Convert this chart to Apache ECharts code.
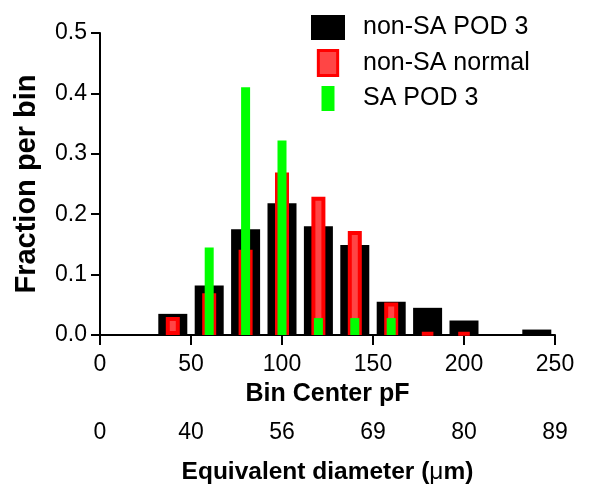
<!DOCTYPE html>
<html>
<head>
<meta charset="utf-8">
<script src="https://cdn.jsdelivr.net/npm/echarts@6/dist/echarts.min.js"></script>
<style>html,body{margin:0;padding:0;background:#fff}#c{width:600px;height:492px}</style>
</head>
<body>
<div id="c"></div>
<script>
const binCenters = [40, 60, 80, 100, 120, 140, 160, 180, 200, 240];
const nonSaPod3 = [0.035, 0.082, 0.175, 0.218, 0.180, 0.149, 0.055, 0.045, 0.024, 0.009];
const nonSaNormal = [0.030, 0.069, 0.141, 0.269, 0.229, 0.172, 0.054, 0.004, 0.004, 0];
const saPod3 = [0, 0.145, 0.410, 0.322, 0.028, 0.028, 0.028, 0, 0, 0];
const pfTicks = [0, 50, 100, 150, 200, 250];
const diameterLabels = ['0', '40', '56', '69', '80', '89'];
const seriesNames = ['non-SA POD 3', 'non-SA normal', 'SA POD 3'];

function pairs(vals) {
  return binCenters.map((x, i) => vals[i] > 0 ? [x, vals[i]] : null).filter(p => p);
}
const FONT = "'Liberation Sans', Arial, sans-serif";
const hiddenX = () => ({ type: 'value', min: 0, max: 250, show: false, gridIndex: 0 });

const chart = echarts.init(document.getElementById('c'), null, { renderer: 'canvas' });
chart.setOption({
  animation: false,
  textStyle: { fontFamily: FONT },
  grid: { left: 100, right: 45, top: 33, bottom: 157, containLabel: false, outerBoundsMode: 'none' },
  legend: {
    orient: 'vertical',
    left: 306, top: 10,
    itemWidth: 34, itemHeight: 25, itemGap: 9,
    textStyle: { fontFamily: FONT, fontSize: 25, color: '#000', padding: [0, 0, 0, 13] },
    data: [
      { name: seriesNames[0], icon: 'rect' },
      { name: seriesNames[1], icon: 'path://M0,0h17v22h-17z', itemStyle: { color: '#ff4545', borderColor: '#ff0000', borderWidth: 3 } },
      { name: seriesNames[2], icon: 'path://M0,0h13v25h-13z' }
    ]
  },
  xAxis: [
    {
      type: 'value', min: 0, max: 250, interval: 50,
      axisLine: { show: true, lineStyle: { color: '#000', width: 2 } },
      axisTick: { show: true, length: 10, lineStyle: { color: '#000', width: 2 } },
      splitLine: { show: false },
      axisLabel: { fontSize: 23, color: '#000', margin: 18, fontFamily: FONT },
      name: 'Bin Center pF', nameLocation: 'middle', nameGap: 47,
      nameTextStyle: { fontSize: 25, fontWeight: 'bold', color: '#000', fontFamily: FONT }
    },
    {
      type: 'value', min: 0, max: 250, interval: 50, position: 'bottom', offset: 72,
      axisLine: { show: false }, axisTick: { show: false }, splitLine: { show: false },
      axisLabel: { fontSize: 23, color: '#000', margin: 14, fontFamily: FONT,
        formatter: v => diameterLabels[pfTicks.indexOf(v)] },
      name: '{b|Equivalent diameter (}{m|μ}{b|m)}', nameLocation: 'middle', nameGap: 53,
      nameTextStyle: { fontSize: 24.5, color: '#000', fontFamily: FONT,
        rich: {
          b: { fontSize: 24.5, fontWeight: 'bold', color: '#000', fontFamily: FONT },
          m: { fontSize: 24.5, fontWeight: 'normal', color: '#000', fontFamily: FONT }
        } }
    },
    hiddenX(), hiddenX()
  ],
  yAxis: {
    type: 'value', min: 0, max: 0.5, interval: 0.1,
    axisLine: { show: true, lineStyle: { color: '#000', width: 2 } },
    axisTick: { show: true, length: 9, lineStyle: { color: '#000', width: 2 } },
    splitLine: { show: false },
    axisLabel: { fontSize: 23, color: '#000', margin: 13, fontFamily: FONT, formatter: v => v.toFixed(1) },
    name: 'Fraction per bin', nameLocation: 'middle', nameGap: 59, nameRotate: 90,
    nameTextStyle: { fontSize: 29, fontWeight: 'bold', color: '#000', fontFamily: FONT }
  },
  series: [
    { name: seriesNames[0], type: 'bar', xAxisIndex: 0, barWidth: 29,
      itemStyle: { color: '#000' }, data: pairs(nonSaPod3) },
    { name: seriesNames[1], type: 'bar', xAxisIndex: 2, barWidth: 14,
      itemStyle: { color: '#ff4545', borderColor: '#ff0000', borderWidth: 4 }, data: pairs(nonSaNormal) },
    { name: seriesNames[2], type: 'bar', xAxisIndex: 3, barWidth: 9,
      itemStyle: { color: '#00ff00' }, data: pairs(saPod3) }
  ]
});
</script>
</body>
</html>
